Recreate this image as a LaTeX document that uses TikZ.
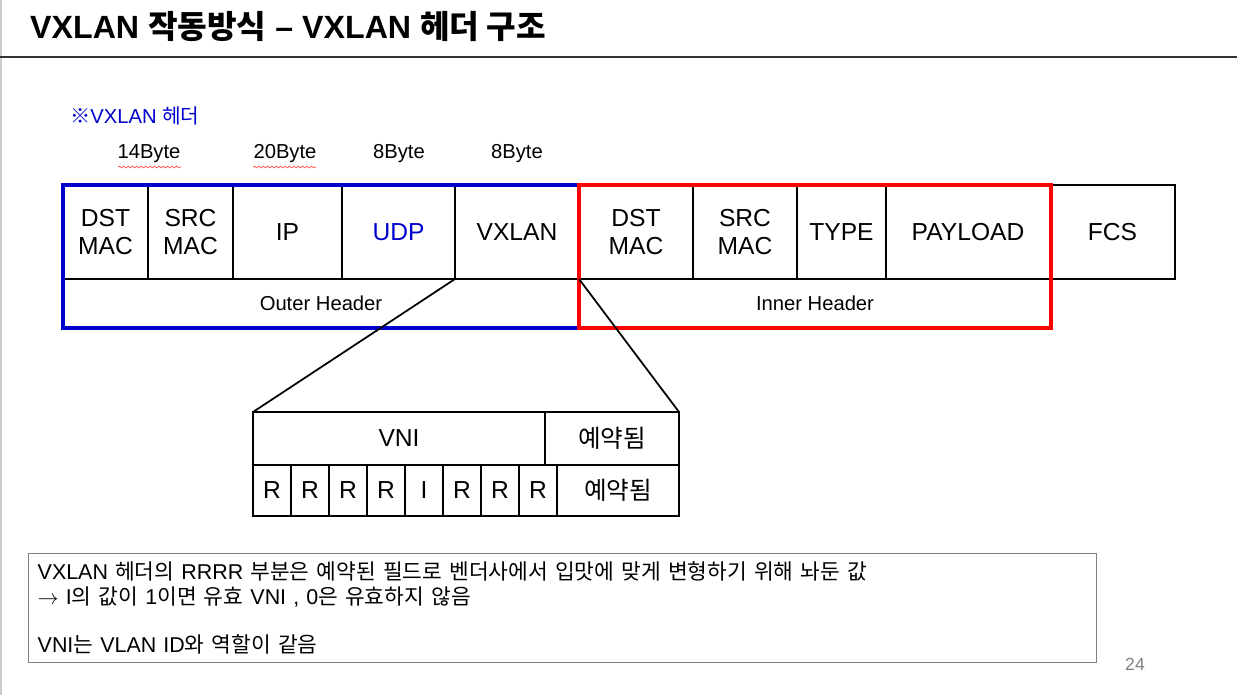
\documentclass[tikz,border=0pt]{standalone}
\usepackage{fontspec}
\setmainfont{Liberation Sans}
\newfontfamily\krfont{Noto Sans CJK KR}
\newcommand\ko[1]{{\krfont #1}}
\usetikzlibrary{positioning,fit,decorations.pathmorphing}
\definecolor{HdrBlue}{HTML}{0000CC}
\definecolor{HdrRed}{HTML}{FF0000}
\definecolor{NoteGray}{HTML}{7F7F7F}

\begin{document}
\begin{tikzpicture}[
      x=0.2mm,y=-0.2mm,
      cell/.style={draw,line width=1.1pt,outer sep=0pt,inner sep=0pt,
        minimum height=18.8mm,align=center,
        font=\fontsize{14}{15.6}\selectfont},
      band/.style={outer sep=0pt,inner sep=0pt,minimum height=9.8mm,
        font=\fontsize{11.5}{13}\selectfont},
      vcell/.style={cell,minimum height=10.6mm},
      bit/.style={cell,minimum height=10.2mm,minimum width=7.6mm},
      frame/.style={line width=2.3pt,inner sep=0pt},
      bytes/.style={font=\fontsize{11.5}{13}\selectfont},
      squiggle/.style={HdrRed!70,line width=0.4pt,decorate,
        decoration={snake,amplitude=0.5pt,segment length=2.5pt}},
      zoomline/.style={line width=1pt}
    ]
      \useasboundingbox (0,0) rectangle (1237,695);
      \draw[gray!40,line width=1pt] (1,0) -- (1,695);
      % title
      \node[anchor=west,font=\bfseries\fontsize{18.3}{22}\selectfont] (title) at (24,27)
        {VXLAN \ko{작동방식} -- VXLAN \ko{헤더 구조}};
      \draw[line width=1.3pt,black!80] (0,57) -- (1237,57);
      \node[anchor=west,text=HdrBlue,font=\fontsize{11.5}{13}\selectfont] (note) at (64,116)
        {\ko{※}VXLAN \ko{헤더}};
      % byte sizes
      \node[bytes] (b14) at (149,154) {14Byte};
      \node[bytes] (b20) at (285,154) {20Byte};
      \node[bytes] (b8u) at (399,154) {8Byte};
      \node[bytes] (b8v) at (517,154) {8Byte};
      \draw[squiggle] (118,167) -- (181,167);
      \draw[squiggle] (253,167) -- (316,167);
      % outer frame
      \node[cell,minimum width=17mm,anchor=north west] (odst) at (63,185) {DST\\MAC};
      \node[cell,minimum width=17mm,right=0pt of odst] (osrc) {SRC\\MAC};
      \node[cell,minimum width=21.8mm,right=0pt of osrc] (oip) {IP};
      \node[cell,minimum width=22.6mm,right=0pt of oip,text=HdrBlue] (oudp) {UDP};
      \node[cell,minimum width=24.8mm,right=0pt of oudp] (ovx) {VXLAN};
      % inner frame
      \node[cell,minimum width=22.8mm,right=0pt of ovx] (idst) {DST\\MAC};
      \node[cell,minimum width=20.8mm,right=0pt of idst] (isrc) {SRC\\MAC};
      \node[cell,minimum width=17.8mm,right=0pt of isrc] (itype) {TYPE};
      \node[cell,minimum width=32.8mm,right=0pt of itype] (ipay) {PAYLOAD};
      \node[cell,minimum width=25mm,right=0pt of ipay] (fcs) {FCS};
      \node[band,minimum width=103.2mm,anchor=north west] (outer) at (odst.south west) {Outer Header};
      \node[band,minimum width=94.4mm,anchor=north west] (inner) at (idst.south west) {Inner Header};
      \node[frame,draw=HdrBlue,fit=(odst)(ovx)(outer)] (oframe) {};
      \node[frame,draw=HdrRed,fit=(idst)(ipay)(inner)] (iframe) {};
      % vxlan header detail
      \node[vcell,minimum width=58.4mm,anchor=north west] (vni) at (253,412) {VNI};
      \node[vcell,minimum width=26.8mm,right=0pt of vni] (rsv1) {\ko{예약됨}};
      \foreach \lbl [count=\i] in {R,R,R,R,I,R,R,R}
        \node[bit,anchor=north west] (bit\i) at (215+38*\i,465) {\lbl};
      \node[bit,minimum width=24.4mm,right=0pt of bit8] (rsv2) {\ko{예약됨}};
      \draw[zoomline] (ovx.south west) -- (vni.north west);
      \draw[zoomline] (ovx.south east) -- (rsv1.north east);
      % note box
      \node[draw=NoteGray,line width=0.8pt,anchor=north west,minimum width=213.6mm,
        minimum height=21.8mm,inner xsep=1.8mm,text width=210mm,align=left,
        font=\fontsize{12.2}{13.8}\selectfont] (memo) at (28,553)
        {VXLAN \ko{헤더의} RRRR \ko{부분은 예약된 필드로 벤더사에서 입맛에 맞게 변형하기 위해 놔둔 값}\\
         $\rightarrow$ I\ko{의 값이} 1\ko{이면 유효} VNI , 0\ko{은 유효하지 않음}\\[13.8pt]
         VNI\ko{는} VLAN ID\ko{와 역할이 같음}};
      \node[text=NoteGray,font=\fontsize{10}{12}\selectfont] (pnum) at (1135,664) {24};
    \end{tikzpicture}
\end{document}
